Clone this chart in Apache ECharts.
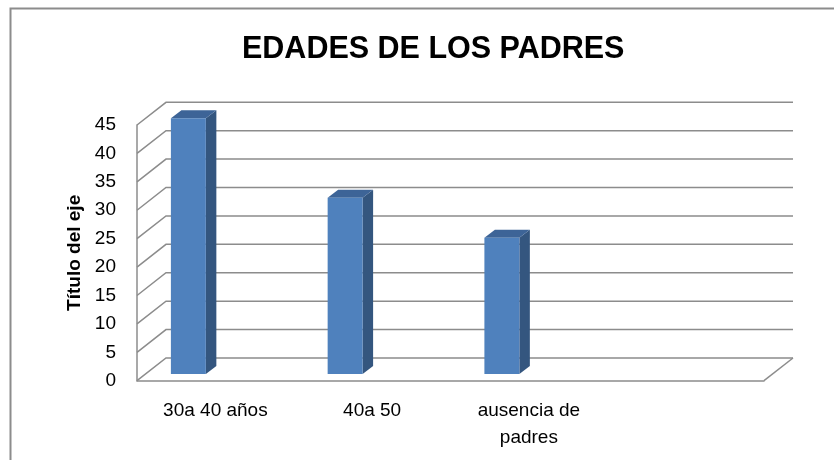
<!DOCTYPE html>
<html>
<head>
<meta charset="utf-8">
<script src="https://cdn.jsdelivr.net/npm/echarts@6/dist/echarts.min.js"></script>
<style>
html, body { margin: 0; padding: 0; background: #fff; }
#edadesPadres { width: 834px; height: 460px; }
</style>
</head>
<body>
<div id="edadesPadres"></div>
<script>
var categorias = ['30a 40 años', '40a 50', 'ausencia de\npadres', '']
var valores = [45, 31, 24]
var marcasEje = [0, 5, 10, 15, 20, 25, 30, 35, 40, 45]

// desplazamiento de la pared del fondo (falso 3D)
var fondoX = 29
var fondoY = -22.7
// posicion de la columna dentro de la profundidad
var barraX = -27
var barraY = -6.7
var ladoX = 10.5
var ladoY = -8
var gris = '#8c8c8c'

var chart = echarts.init(document.getElementById('edadesPadres'))

var option = {
    animation: false,
    title: {
        text: 'EDADES DE LOS PADRES',
        left: 237,
        top: 29,
        textStyle: {
            fontFamily: 'Liberation Sans',
            fontSize: 30.5,
            fontWeight: 'bold',
            color: '#000'
        }
    },
    graphic: [
        {
            type: 'rect',
            left: 8,
            top: 6,
            shape: { width: 840, height: 470 },
            style: { fill: 'none', stroke: gris, lineWidth: 2 },
            silent: true
        }
    ],
    grid: {
        left: 137,
        right: 70,
        top: 125,
        bottom: 79.3
    },
    xAxis: {
        type: 'category',
        data: categorias,
        axisTick: { show: false },
        axisLine: { lineStyle: { color: gris, width: 1.5 } },
        axisLabel: {
            margin: 17,
            fontFamily: 'Liberation Sans',
            fontSize: 19,
            lineHeight: 27,
            color: '#000'
        }
    },
    yAxis: {
        type: 'value',
        min: 0,
        max: 45,
        interval: 5,
        name: 'Título del eje',
        nameLocation: 'middle',
        nameGap: 52,
        nameTextStyle: {
            fontFamily: 'Liberation Sans',
            fontSize: 19,
            fontWeight: 'bold',
            color: '#000'
        },
        axisLine: { show: true, lineStyle: { color: gris, width: 1.5 } },
        axisTick: { show: false },
        splitLine: { show: false },
        axisLabel: {
            margin: 21,
            fontFamily: 'Liberation Sans',
            fontSize: 19,
            color: '#000'
        }
    },
    series: [
        {
            // paredes: diagonales laterales y lineas del fondo
            type: 'custom',
            z: 1,
            silent: true,
            data: marcasEje.map(function(v) { return [0, v] }),
            renderItem: function(params, api) {
                var cs = params.coordSys
                var v = api.value(1)
                var y = api.coord([0, v])[1]
                var x0 = cs.x
                var x1 = cs.x + cs.width
                var hijos = [
                    {
                        type: 'polyline',
                        shape: { points: [[x0, y], [x0 + fondoX, y + fondoY], [x1 + fondoX, y + fondoY]] },
                        style: { stroke: gris, lineWidth: 1.5, fill: null }
                    }
                ]
                if (v === 0) {
                    hijos.push({
                        type: 'line',
                        shape: { x1: x1, y1: y, x2: x1 + fondoX, y2: y + fondoY },
                        style: { stroke: gris, lineWidth: 1.5 }
                    })
                }
                return { type: 'group', children: hijos }
            }
        },
        {
            // columnas 3D
            type: 'custom',
            z: 5,
            data: valores.map(function(v, i) { return [i, v] }),
            renderItem: function(params, api) {
                var i = api.value(0)
                var v = api.value(1)
                var base = api.coord([i, 0])
                var tope = api.coord([i, v])
                var ancho = api.size([1, 0])[0] * 0.223
                var cx = base[0] + barraX
                var yb = base[1] + barraY
                var yt = tope[1] + barraY
                var xl = cx - ancho / 2
                var xr = cx + ancho / 2
                return {
                    type: 'group',
                    children: [
                        {
                            type: 'polygon',
                            shape: { points: [[xr, yt], [xr + ladoX, yt + ladoY], [xr + ladoX, yb + ladoY], [xr, yb]] },
                            style: { fill: '#34567f' }
                        },
                        {
                            type: 'polygon',
                            shape: { points: [[xl, yt], [xl + ladoX, yt + ladoY], [xr + ladoX, yt + ladoY], [xr, yt]] },
                            style: { fill: '#3d6497' }
                        },
                        {
                            type: 'rect',
                            shape: { x: xl, y: yt, width: ancho, height: yb - yt },
                            style: { fill: '#4f81bd' }
                        }
                    ]
                }
            }
        }
    ]
}

chart.setOption(option)
window.onresize = function() {
    chart.resize()
}
</script>
</body>
</html>
